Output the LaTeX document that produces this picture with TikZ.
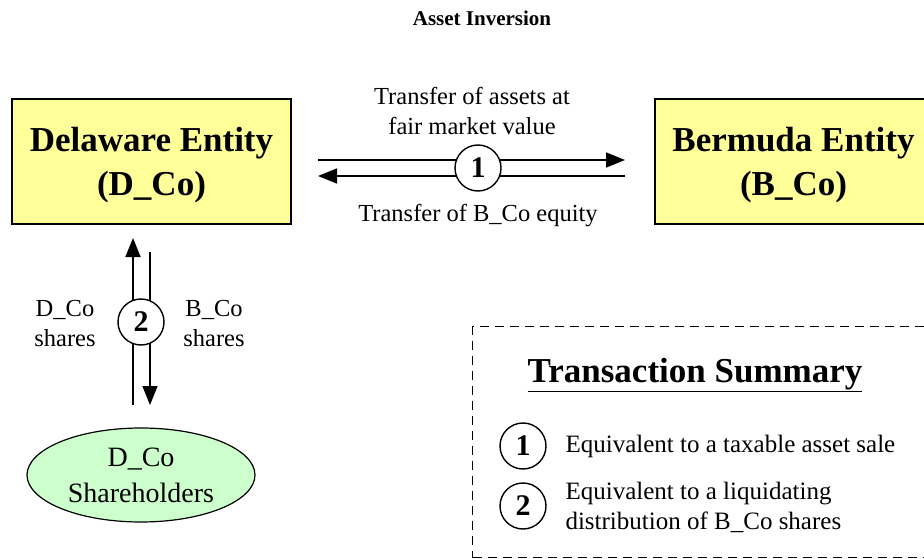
\documentclass[tikz,border=0pt]{standalone}
\usepackage{fontspec}
\setmainfont{Liberation Serif}
\usetikzlibrary{arrows.meta,shapes.geometric}
\definecolor{boxyellow}{HTML}{FFFF99}
\definecolor{holdergreen}{HTML}{CCFFCC}
\tikzset{
  entity/.style={draw=black, line width=1.6pt, fill=boxyellow, minimum width=279pt,
    minimum height=125pt},
  entitytext/.style={align=center, font=\fontsize{35}{44}\selectfont\bfseries},
  holders/.style={ellipse, draw=black, line width=1.2pt, fill=holdergreen, minimum width=228pt,
    minimum height=94pt, align=center, inner sep=0pt, font=\fontsize{28}{36}\selectfont},
  stepnum/.style={circle, draw=black, line width=1.4pt, fill=white, minimum size=46pt,
    inner sep=0pt, font=\fontsize{30}{30}\selectfont\bfseries},
  flow/.style={line width=1.6pt, -{Triangle[length=19pt,width=15pt]}},
  lbl/.style={align=center, font=\fontsize{24.5}{30}\selectfont},
  summ/.style={align=left, anchor=west, font=\fontsize{25}{30}\selectfont}
}
\begin{document}
\begin{tikzpicture}[x=1pt,y=-1pt]
\clip (0,0) rectangle (924,559);
\fill[white] (0,0) rectangle (924,559);

% title
\node[font=\fontsize{21}{24}\selectfont\bfseries] (title) at (482,18) {Asset Inversion};

% the two entities
\node[entity] (dco) at (151.5,161.5) {};
\node[entitytext] (dcotext) at ([yshift=-4pt]dco.center) {Delaware Entity\\(D\_Co)};
\node[entity] (bco) at (794.5,161.5) {};
\node[entitytext] (bcotext) at ([xshift=-1pt,yshift=-4pt]bco.center) {Bermuda Entity\\(B\_Co)};

% step 1: asset / equity exchange
\coordinate (aL) at (318,160);
\coordinate (aR) at (625,160);
\coordinate (eL) at (318,176);
\coordinate (eR) at (625,176);
\draw[flow] (aL) -- (aR);
\draw[flow] (eR) -- (eL);
\node[stepnum] (s1) at (478,168) {1};
\node[lbl] (assets) at (472,111) {Transfer of assets at\\fair market value};
\node[lbl] (equity) at (478,216) {Transfer of B\_Co equity};

% shareholders
\node[holders] (sh) at (141,475) {D\_Co\\Shareholders};

% step 2: share exchange
\coordinate (uB) at (133,405);
\coordinate (uT) at (133,238);
\coordinate (dT) at (150,252);
\coordinate (dB) at (150,405);
\draw[flow] (uB) -- (uT);
\draw[flow] (dT) -- (dB);
\node[stepnum] (s2) at (141,322) {2};
\node[lbl] (dsh) at (65,324) {D\_Co\\shares};
\node[lbl] (bsh) at (214,324) {B\_Co\\shares};

% transaction summary panel
\node[draw=black, dashed, dash pattern=on 9pt off 6pt, line width=1.3pt, minimum width=470pt,
  minimum height=231pt, anchor=north west] (panel) at (472,326) {};
\node[font=\fontsize{35}{40}\selectfont\bfseries] (sumtitle) at (695,375) {\underline{Transaction Summary}};
\node[stepnum] (k1) at (523,446) {1};
\node[stepnum] (k2) at (523,506) {2};
\node[summ] (t1) at (562,446) {Equivalent to a taxable asset sale};
\node[summ] (t2) at (562,507) {Equivalent to a liquidating\\distribution of B\_Co shares};
\end{tikzpicture}
\end{document}
